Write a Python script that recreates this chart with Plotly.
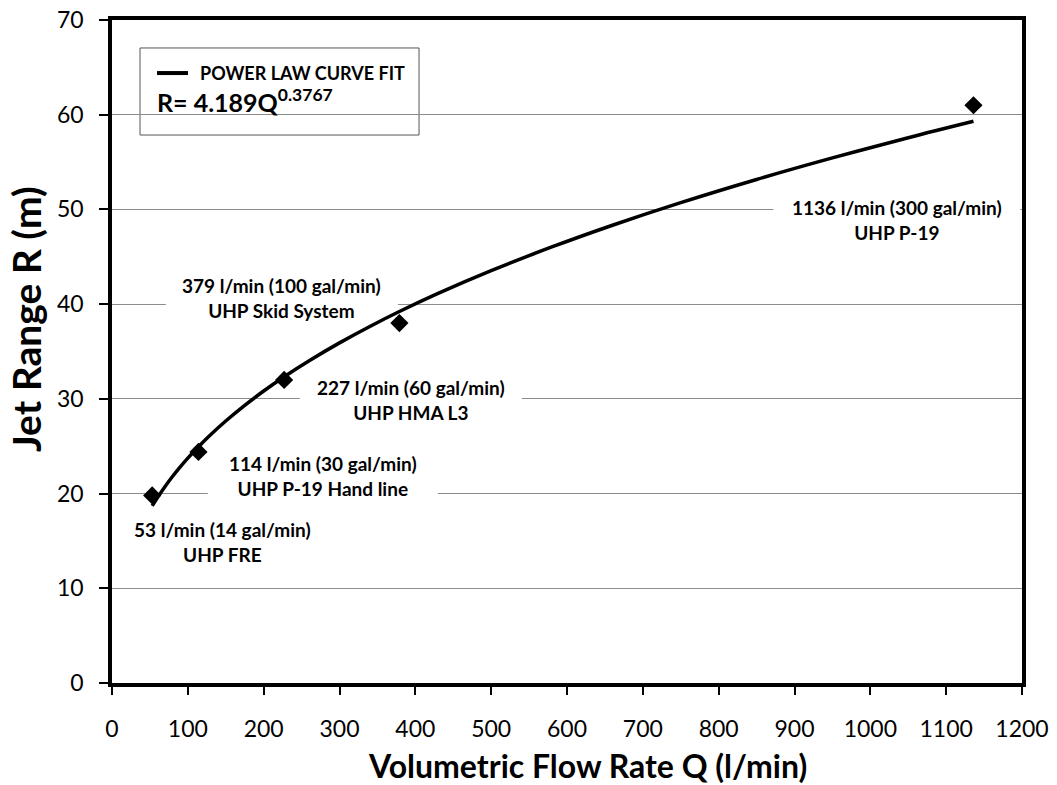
import plotly.graph_objects as go

# Measured data points
flow_lpm = [53, 114, 227, 379, 1136]
jet_range_m = [19.8, 24.4, 32.0, 38.0, 61.0]
point_labels = [
    "53 l/min (14 gal/min)<br>UHP FRE",
    "114 l/min (30 gal/min)<br>UHP P-19 Hand line",
    "227 l/min (60 gal/min)<br>UHP HMA L3",
    "379 l/min (100 gal/min)<br>UHP Skid System",
    "1136 l/min (300 gal/min)<br>UHP P-19",
]

# Power law fit shown on the chart: R = 4.189 Q^0.3767
fit_coef = 4.189
fit_exp = 0.3767
fit_q = [53, 60, 70, 80, 90, 100, 114, 130, 150, 175, 200, 227, 260, 300, 340, 379,
         430, 500, 580, 660, 750, 850, 950, 1050, 1136]
fit_r = [fit_coef * q ** fit_exp for q in fit_q]

x_ticks = list(range(0, 1201, 100))
y_ticks = list(range(0, 71, 10))

FONT = "Lato, 'Open Sans', sans-serif"

fig = go.Figure()
fig.add_trace(go.Scatter(
    x=fit_q, y=fit_r, mode="lines", name="POWER LAW CURVE FIT",
    line=dict(color="black", width=3.5, shape="spline"), showlegend=False,
))
fig.add_trace(go.Scatter(
    x=flow_lpm, y=jet_range_m, mode="markers", name="Data",
    marker=dict(symbol="diamond", color="black", size=14), showlegend=False,
))

# label positions (data coords) and white backing widths (px)
label_pos = [(146, 14.9, 200), (278, 21.9, 230), (394, 29.9, 222), (224, 40.7, 232), (1035, 48.9, 247)]
for txt, (lx, ly, w) in zip(point_labels, label_pos):
    fig.add_shape(type="rect", xref="x", yref="y", xsizemode="pixel", ysizemode="pixel",
                  xanchor=lx, yanchor=ly, x0=-w / 2, x1=w / 2, y0=-25, y1=25,
                  fillcolor="white", line=dict(width=0), layer="between")
    fig.add_annotation(x=lx, y=ly, xref="x", yref="y", text="<b>" + txt + "</b>",
                       showarrow=False, align="center",
                       font=dict(family=FONT, size=19, color="black"))

# legend box (drawn manually)
fig.add_shape(type="rect", xref="paper", yref="paper",
              x0=0.0308, x1=0.3374, y0=0.8265, y1=0.9578,
              line=dict(color="#555", width=1), fillcolor="white", layer="between")
fig.add_shape(type="line", xref="paper", yref="paper",
              x0=0.0495, x1=0.0835, y0=0.920, y1=0.920,
              line=dict(color="black", width=4))
fig.add_annotation(xref="paper", yref="paper", x=0.0945, y=0.920,
                   xanchor="left", yanchor="middle", showarrow=False,
                   text="<b>POWER LAW CURVE FIT</b>",
                   font=dict(family=FONT, size=18, color="black"))
fig.add_annotation(xref="paper", yref="paper", x=0.0475, y=0.879,
                   xanchor="left", yanchor="middle", showarrow=False,
                   text="<b>R= 4.189Q<sup>0.3767</sup></b>",
                   font=dict(family=FONT, size=25, color="black"))

# axis titles
fig.add_annotation(xref="paper", yref="paper", x=0.522, y=-0.1237,
                   xanchor="center", yanchor="middle", showarrow=False,
                   text="<b>Volumetric Flow Rate Q (l/min)</b>",
                   font=dict(family=FONT, size=32, color="black"))
fig.add_annotation(xref="paper", yref="paper", x=-0.0945, y=0.549,
                   xanchor="center", yanchor="middle", showarrow=False, textangle=-90,
                   text="<b>Jet Range R (m)</b>",
                   font=dict(family=FONT, size=39, color="black"))

fig.update_layout(
    width=1057, height=785,
    margin=dict(l=112, r=35, t=20, b=102),
    paper_bgcolor="white", plot_bgcolor="white",
    font=dict(family=FONT, color="black"),
    showlegend=False,
    xaxis=dict(range=[0, 1200], tickvals=x_ticks, showgrid=False, zeroline=False,
               showline=True, linecolor="black", linewidth=3.5, mirror=True,
               ticks="outside", ticklen=8, tickwidth=2, tickcolor="black",
               tickfont=dict(size=23, family=FONT), ticklabelstandoff=15,
               ticklabeloverflow="allow", automargin=False),
    yaxis=dict(range=[0, 70], tickvals=y_ticks, showgrid=True, gridcolor="#8c8c8c",
               gridwidth=1, zeroline=False,
               showline=True, linecolor="black", linewidth=3.5, mirror=True,
               ticks="outside", ticklen=9, tickwidth=2, tickcolor="black",
               tickfont=dict(size=23, family=FONT), ticklabelstandoff=11,
               ticklabeloverflow="allow", automargin=False),
)

fig.write_html("out.html", config={"displayModeBar": False},
               post_script="document.body.style.margin='0px';")
